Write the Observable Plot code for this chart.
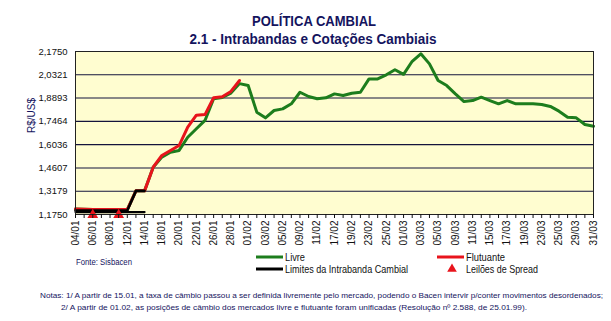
<!DOCTYPE html>
<html><head><meta charset="utf-8">
<script src="https://cdn.jsdelivr.net/npm/d3@7"></script>
<script src="https://cdn.jsdelivr.net/npm/@observablehq/plot@0.6"></script>
<style>
body{margin:0;background:#fff;}
#wrap{position:relative;width:611px;height:321px;overflow:hidden;background:#fff}
</style></head><body><div id="wrap"></div>
<script>
// Dias úteis (1º trimestre de 1999)
const dates = ["04/01","05/01","06/01","07/01","08/01","11/01","12/01","13/01","14/01","15/01",
  "18/01","19/01","20/01","21/01","22/01","25/01","26/01","27/01","28/01","29/01",
  "01/02","02/02","03/02","04/02","05/02","08/02","09/02","10/02","11/02","12/02",
  "17/02","18/02","19/02","22/02","23/02","24/02","25/02","26/02",
  "01/03","02/03","03/03","04/03","05/03","08/03","09/03","10/03","11/03","12/03",
  "15/03","16/03","17/03","18/03","19/03","22/03","23/03","24/03","25/03","26/03",
  "29/03","30/03","31/03"];
// Livre
const livre = [1.208,1.207,1.205,1.205,1.205,1.205,1.205,1.320,1.320,1.465,
  1.527,1.557,1.568,1.649,1.701,1.752,1.885,1.893,1.920,1.978,
  1.966,1.803,1.768,1.813,1.823,1.854,1.925,1.899,1.885,1.891,
  1.915,1.905,1.919,1.925,2.007,2.007,2.032,2.063,
  2.035,2.115,2.161,2.099,1.997,1.966,1.915,1.868,1.874,1.895,
  1.874,1.854,1.874,1.854,1.854,1.854,1.850,1.838,1.809,1.772,
  1.768,1.727,1.717];
// Flutuante (04/01 a 29/01)
const flutuante = [1.208,1.207,1.205,1.205,1.205,1.205,1.205,1.320,1.320,1.465,
  1.537,1.568,1.598,1.711,1.784,1.788,1.891,1.897,1.930,1.997];
// Limites da Intrabanda Cambial (04/01 a 14/01)
const limiteSuperior = [1.200,1.200,1.200,1.200,1.200,1.200,1.200,1.320,1.320];
const limiteInferior = [1.190,1.190,1.190,1.190,1.190,1.190,1.190,1.190,1.190];
// Leilões de Spread
const leiloesDatas = ["06/01","11/01"];
const leiloesValores = [1.172,1.172];
// Eixo Y
const yTicks = [1.1750,1.3179,1.4607,1.6036,1.7464,1.8893,2.0321,2.1750];

const GREEN = "#1d7d1d", RED = "#e8141c", BLACK = "#000000", NAVY = "#14145e";

const series = (vals) => vals.map((v, i) => ({date: dates[i], value: v}));

const chart = Plot.plot({
  width: 611, height: 321,
  marginTop: 51, marginBottom: 107, marginLeft: 75, marginRight: 18,
  style: {fontFamily: "'Liberation Sans', Arial, sans-serif", fontSize: "9.5px", background: "transparent", color: "#111"},
  x: {type: "point", domain: dates, padding: 0},
  y: {domain: [1.175, 2.175]},
  marks: [
    Plot.frame({fill: "#fffdd0", stroke: null}),
    Plot.ruleY(yTicks.slice(1, -1), {stroke: "#14143c", strokeWidth: 1.1}),
    Plot.lineY(series(livre), {x: "date", y: "value", stroke: GREEN, strokeWidth: 3}),
    Plot.lineY(series(flutuante), {x: "date", y: "value", stroke: RED, strokeWidth: 3}),
    Plot.lineY(series(limiteInferior), {x: "date", y: "value", stroke: BLACK, strokeWidth: 2.2}),
    Plot.lineY(series(limiteSuperior), {x: "date", y: "value", stroke: BLACK, strokeWidth: 2.6}),
    Plot.dot(leiloesDatas.map((d, i) => ({date: d, value: leiloesValores[i]})),
      {x: "date", y: "value", symbol: "triangle", r: 4, fill: RED, stroke: null, clip: false}),
    Plot.frame({stroke: "#222", strokeWidth: 1}),
    Plot.axisX({ticks: dates, tickFormat: d => dates.indexOf(d) % 2 ? "" : d, tickRotate: -90,
      tickSize: 4, tickPadding: 2, label: null, fontSize: "10px"}),
    Plot.axisY({ticks: yTicks, tickFormat: d => d.toFixed(4).replace(".", ","), tickSize: 0,
      tickPadding: 8, label: null}),
    Plot.text(["R$/US$"], {frameAnchor: "left", dx: -44, rotate: -90, text: d => d, fill: NAVY, fontSize: 10})
  ]
});
document.getElementById("wrap").appendChild(chart);

// Títulos, legenda e notas
const svg = d3.select(chart);
const font = "'Liberation Sans', Arial, sans-serif";
function txt(s, x, y, size, opts = {}) {
  const t = svg.append("text").attr("x", x).attr("y", y).attr("font-family", font)
    .attr("font-size", size).attr("fill", opts.fill || NAVY)
    .attr("font-weight", opts.bold ? "bold" : "normal")
    .attr("text-anchor", opts.anchor || "start").text(s);
  if (opts.len) t.attr("textLength", opts.len).attr("lengthAdjust", "spacingAndGlyphs");
  return t;
}
txt("POLÍTICA CAMBIAL", 314, 26, 15, {bold: true, anchor: "middle", len: 124});
txt("2.1 - Intrabandas e Cotações Cambiais", 313, 44, 14, {bold: true, anchor: "middle", len: 247});

// legenda
const leg = svg.append("g");
leg.append("line").attr("x1", 256).attr("x2", 283).attr("y1", 257).attr("y2", 257).attr("stroke", GREEN).attr("stroke-width", 3);
leg.append("line").attr("x1", 437).attr("x2", 464).attr("y1", 257).attr("y2", 257).attr("stroke", RED).attr("stroke-width", 3);
leg.append("line").attr("x1", 256).attr("x2", 283).attr("y1", 269).attr("y2", 269).attr("stroke", BLACK).attr("stroke-width", 3);
leg.append("path").attr("d", d3.symbol(d3.symbolTriangle, 40)()).attr("transform", "translate(452,269)").attr("fill", RED);
txt("Livre", 285, 261, 10.5, {fill: "#111", len: 20});
txt("Flutuante", 466, 261, 10.5, {fill: "#111", len: 39});
txt("Limites da Intrabanda Cambial", 285, 273, 10.5, {fill: "#111", len: 123});
txt("Leilões de Spread", 466, 273, 10.5, {fill: "#111", len: 72});
txt("Fonte: Sisbacen", 76, 265, 8.5, {fill: NAVY, len: 56});

// notas
txt("Notas: 1/ A partir de 15.01, a taxa de câmbio passou a ser definida livremente pelo mercado, podendo o Bacen intervir p/conter movimentos desordenados;",
  40, 298, 7.8, {len: 563});
txt("2/ A partir de 01.02, as posições de câmbio dos mercados livre e flutuante foram unificadas (Resolução nº 2.588, de 25.01.99).",
  61, 310, 7.8, {len: 466});
</script></body></html>
